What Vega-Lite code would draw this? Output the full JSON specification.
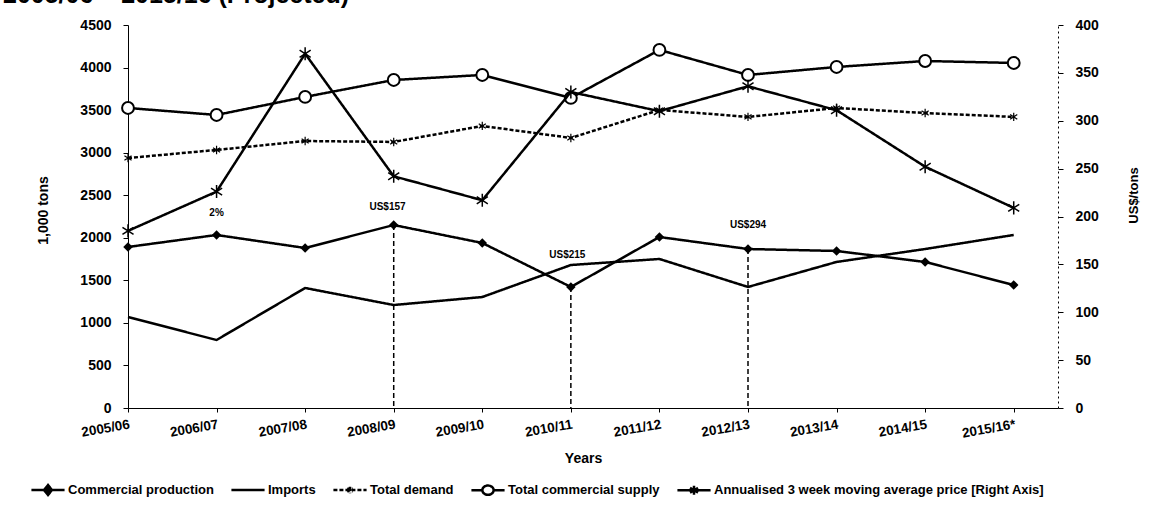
{
  "$schema": "https://vega.github.io/schema/vega-lite/v6.json",
  "width": 930,
  "height": 383,
  "autosize": {"type": "none"},
  "padding": {"left": 128, "top": 25, "right": 101, "bottom": 115},
  "background": "white",
  "title": {"text": "2005/06 – 2015/16 (Projected)", "anchor": "start", "dx": -27, "offset": 10, "fontSize": 25, "font": "Liberation Sans", "fontWeight": "bold", "color": "black"},
  "datasets": {
    "main": [
      {"year": "2005/06", "i": 0, "series": "Commercial production", "value": 1892},
      {"year": "2006/07", "i": 1, "series": "Commercial production", "value": 2033},
      {"year": "2007/08", "i": 2, "series": "Commercial production", "value": 1880},
      {"year": "2008/09", "i": 3, "series": "Commercial production", "value": 2150},
      {"year": "2009/10", "i": 4, "series": "Commercial production", "value": 1939},
      {"year": "2010/11", "i": 5, "series": "Commercial production", "value": 1422},
      {"year": "2011/12", "i": 6, "series": "Commercial production", "value": 2009},
      {"year": "2012/13", "i": 7, "series": "Commercial production", "value": 1868},
      {"year": "2013/14", "i": 8, "series": "Commercial production", "value": 1845},
      {"year": "2014/15", "i": 9, "series": "Commercial production", "value": 1716},
      {"year": "2015/16*", "i": 10, "series": "Commercial production", "value": 1445},
      {"year": "2005/06", "i": 0, "series": "Imports", "value": 1069},
      {"year": "2006/07", "i": 1, "series": "Imports", "value": 799},
      {"year": "2007/08", "i": 2, "series": "Imports", "value": 1410},
      {"year": "2008/09", "i": 3, "series": "Imports", "value": 1210},
      {"year": "2009/10", "i": 4, "series": "Imports", "value": 1304},
      {"year": "2010/11", "i": 5, "series": "Imports", "value": 1680},
      {"year": "2011/12", "i": 6, "series": "Imports", "value": 1751},
      {"year": "2012/13", "i": 7, "series": "Imports", "value": 1422},
      {"year": "2013/14", "i": 8, "series": "Imports", "value": 1716},
      {"year": "2014/15", "i": 9, "series": "Imports", "value": 1868},
      {"year": "2015/16*", "i": 10, "series": "Imports", "value": 2033},
      {"year": "2005/06", "i": 0, "series": "Total demand", "value": 2937},
      {"year": "2006/07", "i": 1, "series": "Total demand", "value": 3032},
      {"year": "2007/08", "i": 2, "series": "Total demand", "value": 3137},
      {"year": "2008/09", "i": 3, "series": "Total demand", "value": 3126},
      {"year": "2009/10", "i": 4, "series": "Total demand", "value": 3314},
      {"year": "2010/11", "i": 5, "series": "Total demand", "value": 3173},
      {"year": "2011/12", "i": 6, "series": "Total demand", "value": 3502},
      {"year": "2012/13", "i": 7, "series": "Total demand", "value": 3420},
      {"year": "2013/14", "i": 8, "series": "Total demand", "value": 3525},
      {"year": "2014/15", "i": 9, "series": "Total demand", "value": 3466},
      {"year": "2015/16*", "i": 10, "series": "Total demand", "value": 3420},
      {"year": "2005/06", "i": 0, "series": "Total commercial supply", "value": 3525},
      {"year": "2006/07", "i": 1, "series": "Total commercial supply", "value": 3443},
      {"year": "2007/08", "i": 2, "series": "Total commercial supply", "value": 3655},
      {"year": "2008/09", "i": 3, "series": "Total commercial supply", "value": 3854},
      {"year": "2009/10", "i": 4, "series": "Total commercial supply", "value": 3913},
      {"year": "2010/11", "i": 5, "series": "Total commercial supply", "value": 3643},
      {"year": "2011/12", "i": 6, "series": "Total commercial supply", "value": 4207},
      {"year": "2012/13", "i": 7, "series": "Total commercial supply", "value": 3913},
      {"year": "2013/14", "i": 8, "series": "Total commercial supply", "value": 4007},
      {"year": "2014/15", "i": 9, "series": "Total commercial supply", "value": 4077},
      {"year": "2015/16*", "i": 10, "series": "Total commercial supply", "value": 4054},
      {"year": "2005/06", "i": 0, "series": "Annualised 3 week moving average price [Right Axis]", "value": 185},
      {"year": "2006/07", "i": 1, "series": "Annualised 3 week moving average price [Right Axis]", "value": 226},
      {"year": "2007/08", "i": 2, "series": "Annualised 3 week moving average price [Right Axis]", "value": 370},
      {"year": "2008/09", "i": 3, "series": "Annualised 3 week moving average price [Right Axis]", "value": 242},
      {"year": "2009/10", "i": 4, "series": "Annualised 3 week moving average price [Right Axis]", "value": 217},
      {"year": "2010/11", "i": 5, "series": "Annualised 3 week moving average price [Right Axis]", "value": 330},
      {"year": "2011/12", "i": 6, "series": "Annualised 3 week moving average price [Right Axis]", "value": 310},
      {"year": "2012/13", "i": 7, "series": "Annualised 3 week moving average price [Right Axis]", "value": 336},
      {"year": "2013/14", "i": 8, "series": "Annualised 3 week moving average price [Right Axis]", "value": 311},
      {"year": "2014/15", "i": 9, "series": "Annualised 3 week moving average price [Right Axis]", "value": 252},
      {"year": "2015/16*", "i": 10, "series": "Annualised 3 week moving average price [Right Axis]", "value": 209}
    ],
    "notes": [
      {"i": 1, "value": 2291, "label": "2%"},
      {"i": 2.93, "value": 2362, "label": "US$157"},
      {"i": 4.96, "value": 1798, "label": "US$215"},
      {"i": 7.0, "value": 2150, "label": "US$294"}
    ]
  },
  "encoding": {
    "x": {
      "field": "i", "type": "quantitative",
      "scale": {"domain": [0, 10.5], "nice": false, "zero": false},
      "axis": {
        "title": "Years",
        "values": [0, 1, 2, 3, 4, 5, 6, 7, 8, 9, 10],
        "labelExpr": "['2005/06','2006/07','2007/08','2008/09','2009/10','2010/11','2011/12','2012/13','2013/14','2014/15','2015/16*'][datum.value]",
        "labelAngle": -10, "labelAlign": "right", "labelBaseline": "top",
        "labelPadding": 5, "tickSize": 4, "labelFontSize": 13.5,
        "titleX": 455, "titleY": 50, "titleBaseline": "middle"
      }
    }
  },
  "layer": [
    {
      "encoding": {
        "y": {
          "field": "value", "type": "quantitative",
          "scale": {"domain": [0, 4500], "nice": false},
          "axis": {"title": "1,000 tons", "format": "d", "values": [0, 500, 1000, 1500, 2000, 2500, 3000, 3500, 4000, 4500], "tickSize": 5, "labelPadding": 12, "titleX": -85, "titleY": 185, "titleBaseline": "middle", "titleAngle": -90}
        }
      },
      "layer": [
        {
          "data": {"name": "main"},
          "transform": [{"filter": "datum.series == 'Commercial production' && (datum.i == 3 || datum.i == 5 || datum.i == 7)"}],
          "mark": {"type": "rule", "color": "black", "strokeWidth": 1.5, "strokeDash": [5, 3]},
          "encoding": {"y2": {"datum": 0}}
        },
        {
          "data": {"name": "main"},
          "transform": [{"filter": "datum.series != 'Annualised 3 week moving average price [Right Axis]'"}],
          "mark": {"type": "line"},
          "encoding": {
            "color": {
              "field": "series", "type": "nominal",
              "scale": {"domain": ["Commercial production", "Imports", "Total demand", "Total commercial supply", "Annualised 3 week moving average price [Right Axis]"], "range": ["black", "black", "black", "black", "black"]},
              "legend": {
                "orient": "none", "legendX": -98, "legendY": 447, "direction": "horizontal", "title": null,
                "symbolSize": 1100, "labelFontSize": 13, "labelFont": "Liberation Sans", "labelFontWeight": "bold", "labelColor": "black",
                "columnPadding": 12, "labelOffset": 2, "labelLimit": 0,
                "encode": {
                  "symbols": {
                    "update": {
                      "shape": {"signal": "datum.value == 'Commercial production' ? 'M-1,0H1M0,-0.3L0.24,0L0,0.3L-0.24,0Z' : datum.value == 'Imports' ? 'M-1,0H1M0,-0.3L0.0005,-0.3M0,0.3L0.0005,0.3' : datum.value == 'Total demand' ? 'M-1,0H1M0,-0.2V0.2M-0.17,-0.1L0.17,0.1M-0.17,0.1L0.17,-0.1M0,-0.3L0.0005,-0.3M0,0.3L0.0005,0.3' : datum.value == 'Total commercial supply' ? 'M-1,0H-0.34M0.34,0H1M0.34,0A0.34,0.28 0 1,1 -0.34,0A0.34,0.28 0 1,1 0.34,0Z' : 'M-1,0H1M0,-0.27V0.27M-0.24,-0.14L0.24,0.14M-0.24,0.14L0.24,-0.14'"},
                      "fill": {"signal": "datum.value == 'Total commercial supply' ? 'white' : 'black'"},
                      "stroke": {"value": "black"},
                      "strokeWidth": {"signal": "datum.value == 'Total demand' ? 1 : 2"},
                      "strokeDash": {"signal": "datum.value == 'Total demand' ? [3, 1] : [1, 0]"},
                      "opacity": {"value": 1}
                    }
                  }
                }
              }
            },
            "strokeWidth": {
              "field": "series", "type": "nominal", "legend": null,
              "scale": {"domain": ["Commercial production", "Imports", "Total demand", "Total commercial supply", "Annualised 3 week moving average price [Right Axis]"], "range": [2.5, 2.5, 1.1, 2, 1.8]}
            },
            "strokeDash": {
              "field": "series", "type": "nominal", "legend": null,
              "scale": {"domain": ["Commercial production", "Imports", "Total demand", "Total commercial supply", "Annualised 3 week moving average price [Right Axis]"], "range": [[1, 0], [1, 0], [4, 2], [1, 0], [1, 0]]}
            }
          }
        },
        {
          "data": {"name": "main"},
          "transform": [{"filter": "datum.series == 'Commercial production'"}],
          "mark": {"type": "point", "shape": "diamond", "filled": true, "color": "black", "size": 90, "opacity": 1}
        },
        {
          "data": {"name": "main"},
          "transform": [{"filter": "datum.series == 'Total commercial supply'"}],
          "mark": {"type": "point", "shape": "circle", "filled": true, "fill": "white", "stroke": "black", "strokeWidth": 2, "size": 140, "opacity": 1}
        },
        {
          "data": {"name": "main"},
          "transform": [{"filter": "datum.series == 'Total demand'"}],
          "mark": {"type": "point", "shape": "M0,-1V1M-0.85,-0.55L0.85,0.55M-0.85,0.55L0.85,-0.55", "filled": false, "stroke": "black", "strokeWidth": 1.2, "size": 70, "opacity": 1}
        },
        {
          "data": {"name": "notes"},
          "mark": {"type": "text", "font": "Liberation Sans", "fontWeight": "bold", "fontSize": 10, "color": "black", "baseline": "middle", "align": "center"},
          "encoding": {"text": {"field": "label", "type": "nominal"}}
        }
      ]
    },
    {
      "encoding": {
        "y": {
          "field": "value", "type": "quantitative",
          "scale": {"domain": [0, 400], "nice": false},
          "axis": {"orient": "right", "title": "US$/tons", "format": "d", "values": [0, 50, 100, 150, 200, 250, 300, 350, 400], "tickSize": 5, "labelPadding": 12, "domainDash": [2, 3], "titleX": 75, "titleY": 170, "titleBaseline": "middle", "titleAngle": -90, "titleFontSize": 13}
        }
      },
      "layer": [
        {
          "data": {"name": "main"},
          "transform": [{"filter": "datum.series == 'Annualised 3 week moving average price [Right Axis]'"}],
          "mark": {"type": "line"},
          "encoding": {
            "color": {"field": "series", "type": "nominal"},
            "strokeWidth": {"field": "series", "type": "nominal", "legend": null},
            "strokeDash": {"field": "series", "type": "nominal", "legend": null}
          }
        },
        {
          "data": {"name": "main"},
          "transform": [{"filter": "datum.series == 'Annualised 3 week moving average price [Right Axis]'"}],
          "mark": {"type": "point", "shape": "M0,-1V1M-0.85,-0.55L0.85,0.55M-0.85,0.55L0.85,-0.55", "filled": false, "stroke": "black", "strokeWidth": 1.5, "size": 170, "opacity": 1}
        }
      ]
    }
  ],
  "resolve": {"scale": {"y": "independent"}},
  "config": {
    "view": {"stroke": null},
    "axis": {
      "labelFont": "Liberation Sans", "labelFontWeight": "bold", "labelFontSize": 14, "labelColor": "black",
      "titleFont": "Liberation Sans", "titleFontWeight": "bold", "titleFontSize": 14, "titleColor": "black",
      "domainColor": "black", "tickColor": "black", "grid": false
    }
  }
}
